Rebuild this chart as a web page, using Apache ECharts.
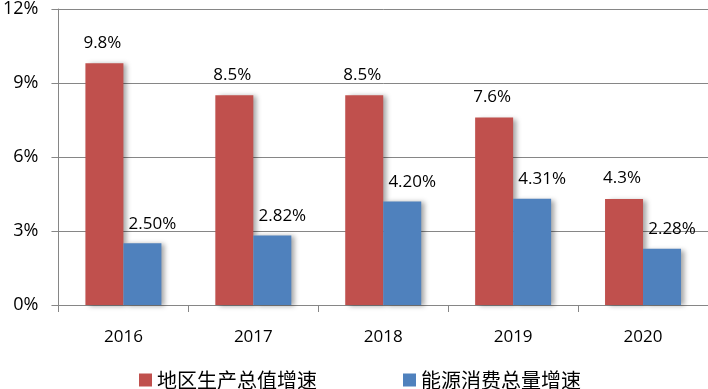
<!DOCTYPE html>
<html>
<head>
<meta charset="utf-8">
<script src="https://cdn.jsdelivr.net/npm/echarts@6/dist/echarts.min.js"></script>
<style>html,body{margin:0;padding:0;background:#fff}#c{width:708px;height:389px}</style>
</head>
<body>
<div id="c"></div>
<script>
var categories = ['2016', '2017', '2018', '2019', '2020'];
var gdpGrowth = [9.8, 8.5, 8.5, 7.6, 4.3];
var gdpLabels = ['9.8%', '8.5%', '8.5%', '7.6%', '4.3%'];
var energyGrowth = [2.50, 2.82, 4.20, 4.31, 2.28];
var energyLabels = ['2.50%', '2.82%', '4.20%', '4.31%', '2.28%'];
var seriesNames = ['地区生产总值增速', '能源消费总量增速'];
var yTicks = [0, 3, 6, 9, 12];

var font = '"Open Sans", "Noto Sans CJK SC", sans-serif';
var chart = echarts.init(document.getElementById('c'));
var shadow = {shadowBlur: 5, shadowOffsetX: 4, shadowOffsetY: 1, shadowColor: 'rgba(0,0,0,0.35)'};
chart.setOption({
  animation: false,
  textStyle: {fontFamily: font},
  grid: {left: 57.5, top: 8, width: 655, height: 297, containLabel: false},
  legend: {
    top: 365, left: 134, itemWidth: 13, itemHeight: 13, itemGap: 86,
    icon: 'rect',
    textStyle: {fontSize: 20, color: '#000', fontFamily: '"Noto Sans CJK SC", sans-serif'},
    data: seriesNames
  },
  xAxis: {
    type: 'category', data: categories,
    axisLine: {lineStyle: {color: '#868686', width: 1}},
    axisTick: {show: true, length: 7, lineStyle: {color: '#868686'}},
    axisLabel: {color: '#000', fontSize: 17, margin: 24}
  },
  yAxis: {
    type: 'value', min: yTicks[0], max: yTicks[yTicks.length - 1], interval: 3,
    axisLine: {show: true, lineStyle: {color: '#868686'}},
    axisTick: {show: true, length: 7, lineStyle: {color: '#868686'}},
    splitLine: {lineStyle: {color: '#868686'}},
    axisLabel: {color: '#000', fontSize: 18, margin: 20, formatter: '{value}%'}
  },
  series: [
    {
      name: seriesNames[0], type: 'bar', data: gdpGrowth, barWidth: 38, barGap: '0%',
      itemStyle: Object.assign({color: '#C0504D'}, shadow),
      label: {show: true, position: 'top', distance: 12, color: '#000', fontSize: 17,
        offset: [-2, 0],
        formatter: function (p) { return gdpLabels[p.dataIndex]; }}
    },
    {
      name: seriesNames[1], type: 'bar', data: energyGrowth, barWidth: 38, barGap: '0%',
      itemStyle: Object.assign({color: '#4F81BD'}, shadow),
      label: {show: true, position: 'top', distance: 11, color: '#000', fontSize: 17,
        offset: [10, 0],
        formatter: function (p) { return energyLabels[p.dataIndex]; }}
    }
  ]
});
</script>
</body>
</html>
